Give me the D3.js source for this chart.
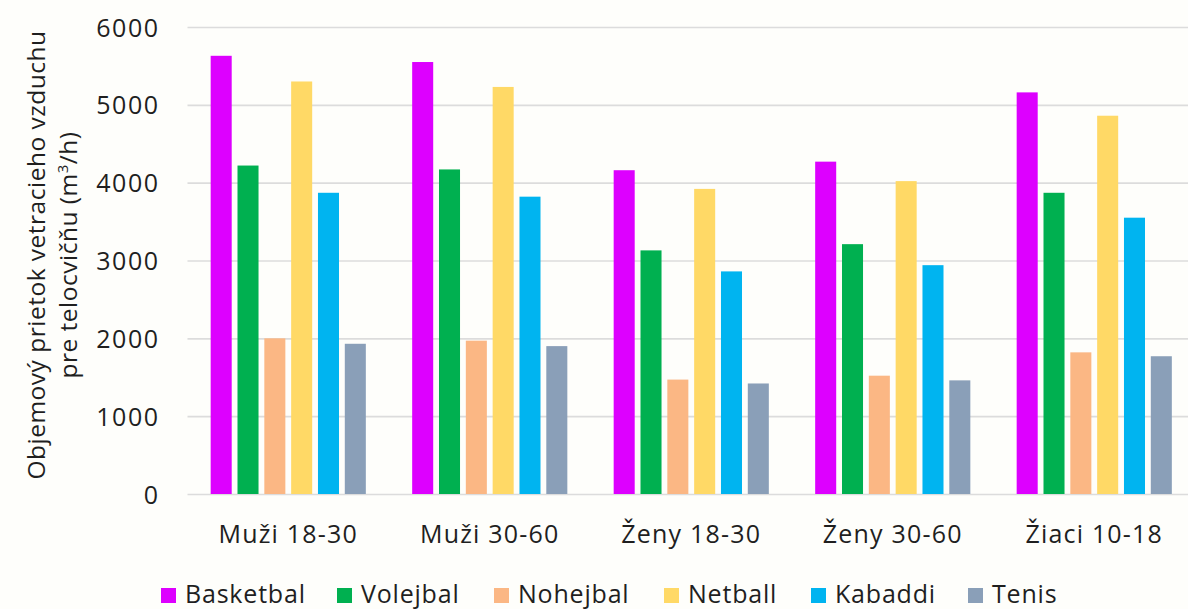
<!DOCTYPE html>
<html>
<head>
<meta charset="utf-8">
<script src="https://cdn.jsdelivr.net/npm/d3@7"></script>
<style>
  html, body { margin: 0; padding: 0; background: #fefefb; }
  svg { display: block; }
  text { font-family: "Open Sans", "Noto Sans", sans-serif; fill: #1f1f1f; }
</style>
</head>
<body>
<svg id="chart" width="1188" height="609"></svg>
<script>
// Age groups on the x axis
const categories = ["Muži 18-30", "Muži 30-60", "Ženy 18-30", "Ženy 30-60", "Žiaci 10-18"];
// Sports (one bar per sport in each group)
const series = ["Basketbal", "Volejbal", "Nohejbal", "Netball", "Kabaddi", "Tenis"];
// Air flow per sport, in the order of the categories (m³/h)
const basketbal = [5630, 5550, 4160, 4270, 5160];
const volejbal  = [4220, 4170, 3130, 3210, 3870];
const nohejbal  = [2000, 1970, 1470, 1520, 1820];
const netball   = [5300, 5230, 3920, 4020, 4860];
const kabaddi   = [3870, 3820, 2860, 2940, 3550];
const tenis     = [1930, 1900, 1420, 1460, 1770];
const yTicks = [0, 1000, 2000, 3000, 4000, 5000, 6000];

const values = [basketbal, volejbal, nohejbal, netball, kabaddi, tenis];
const colors = ["#dd00ff", "#00b050", "#fbb784", "#ffd966", "#00b4f0", "#8a9fb8"];

const svg = d3.select("#chart");
const plot = { left: 187.5, right: 1195, top: 27, bottom: 494 };

const x0 = d3.scaleBand().domain(categories)
  .range([plot.left, plot.right]).paddingInner(0.23).paddingOuter(0.115);
const x1 = d3.scaleBand().domain(series)
  .range([0, x0.bandwidth()]).paddingInner(0.216).paddingOuter(0);
const y = d3.scaleLinear().domain([0, 6000]).range([plot.bottom, plot.top]);
const color = d3.scaleOrdinal().domain(series).range(colors);

// Horizontal gridlines and y tick labels
const yAxis = d3.axisLeft(y).tickValues(yTicks).tickSize(-(1188 - plot.left)).tickPadding(28)
  .tickFormat(d3.format("d"));
const gy = svg.append("g").attr("transform", `translate(${plot.left},0)`).call(yAxis);
gy.select(".domain").remove();
gy.selectAll(".tick line").attr("stroke", "#dcdcdc").attr("stroke-width", 1.6);
gy.selectAll(".tick text")
  .style("font-family", '"Open Sans", sans-serif')
  .style("letter-spacing", "1.5px")
  .attr("font-size", 25).attr("fill", "#1f1f1f").attr("dy", "0.36em");

// Bars
const rows = categories.map((c, i) => ({ cat: c, vals: series.map((s, j) => ({ s, v: values[j][i] })) }));
svg.append("g").selectAll("g").data(rows).join("g")
  .attr("transform", d => `translate(${x0(d.cat)},0)`)
  .selectAll("rect").data(d => d.vals).join("rect")
  .attr("x", d => x1(d.s))
  .attr("width", x1.bandwidth())
  .attr("y", d => y(d.v))
  .attr("height", d => y(0) - y(d.v))
  .attr("fill", d => color(d.s));

// Category labels
const xAxis = d3.axisBottom(x0).tickSize(0).tickPadding(0);
const gx = svg.append("g").attr("transform", `translate(0,${plot.bottom})`).call(xAxis);
gx.select(".domain").remove();
gx.selectAll(".tick text")
  .style("font-family", '"Open Sans", sans-serif')
  .style("letter-spacing", "1.2px")
  .attr("font-size", 25).attr("fill", "#1f1f1f").attr("y", 49).attr("dy", 0);

// Y axis title (two lines, rotated)
const title = svg.append("g").attr("font-size", 24.5).style("letter-spacing", "0.5px");
title.append("text").attr("transform", "translate(45,255) rotate(-90)")
  .attr("text-anchor", "middle").text("Objemový prietok vetracieho vzduchu");
const t2 = title.append("text").attr("transform", "translate(77,255) rotate(-90)")
  .attr("text-anchor", "middle");
t2.append("tspan").text("pre telocvičňu (m");
t2.append("tspan").attr("font-size", 15).attr("dy", -9).text("3");
t2.append("tspan").attr("dy", 9).text("/h)");

// Legend
const legendX = [161, 337, 494, 664, 811, 968];
const legend = svg.append("g").selectAll("g").data(series).join("g")
  .attr("transform", (d, i) => `translate(${legendX[i]},588)`);
legend.append("rect").attr("width", 15).attr("height", 15).attr("fill", d => color(d));
legend.append("text").attr("x", 24).attr("y", 15).attr("font-size", 25)
  .style("letter-spacing", "0.8px").text(d => d);
</script>
</body>
</html>
